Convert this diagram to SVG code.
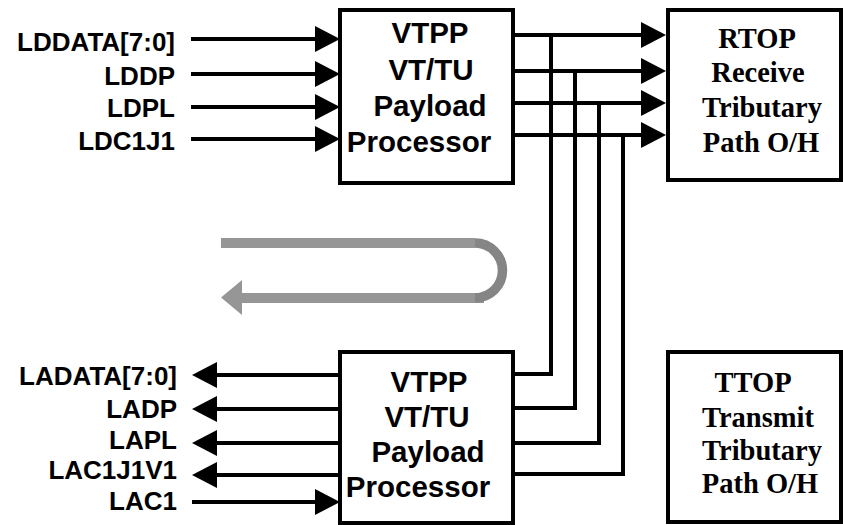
<svg xmlns="http://www.w3.org/2000/svg" width="843" height="525" viewBox="0 0 843 525">
<style>
.box{fill:#fff;stroke:#000;stroke-width:4}
.ln{fill:none;stroke:#000;stroke-width:4}
.ar{fill:none;stroke:#000;stroke-width:4;marker-end:url(#ah)}
.lbl{font-family:"Liberation Sans",Arial,sans-serif;font-weight:bold;font-size:26px;text-anchor:end;fill:#000}
.bt{font-family:"Liberation Sans",Arial,sans-serif;font-weight:bold;font-size:29.5px;text-anchor:middle;fill:#000}
.st{font-family:"Liberation Serif","Times New Roman",serif;font-weight:bold;font-size:28.5px;text-anchor:middle;fill:#000}
</style>
<defs>
<marker id="ah" viewBox="0 0 25 26" refX="1" refY="13" markerWidth="25" markerHeight="26" markerUnits="userSpaceOnUse" orient="auto">
<path d="M0,0 L25,13 L0,26 z" fill="#000"/>
</marker>
</defs>
<g id="connectors">
<path class="ar" d="M191,39 H316"/>
<path class="ar" d="M191,74 H316"/>
<path class="ar" d="M191,107 H316"/>
<path class="ar" d="M191,139 H316"/>
<path class="ar" d="M513,35 H642"/>
<path class="ar" d="M513,71 H642"/>
<path class="ar" d="M513,103 H642"/>
<path class="ar" d="M513,135 H642"/>
<path class="ln" d="M551,35 V374 H513"/>
<path class="ln" d="M575,71 V408 H513"/>
<path class="ln" d="M599,103 V443 H513"/>
<path class="ln" d="M623,135 V474 H513"/>
<path class="ar" d="M340,375 H216"/>
<path class="ar" d="M340,409 H216"/>
<path class="ar" d="M340,443 H216"/>
<path class="ar" d="M340,475 H216"/>
<path class="ar" d="M192,502 H316"/>
</g>
<g id="loop-arrow">
<rect x="221" y="238" width="254" height="10" fill="#969696"/>
<rect x="240" y="293" width="244" height="10" fill="#969696"/>
<polygon points="242,280 221,297.5 242,315" fill="#969696"/>
<path d="M475,243 A27.5,27.5 0 0 1 475,298" fill="none" stroke="#858585" stroke-width="9.5"/>
</g>
<g id="vtpp-top">
<rect class="box" x="340" y="10" width="173" height="173"/>
<text class="bt" x="430" y="43">VTPP</text>
<text class="bt" x="431" y="80">VT/TU</text>
<text class="bt" x="430" y="116">Payload</text>
<text class="bt" x="419" y="152">Processor</text>
</g>
<g id="rtop">
<rect class="box" x="668" y="10" width="173" height="170"/>
<text class="st" x="757" y="48">RTOP</text>
<text class="st" x="758" y="82">Receive</text>
<text class="st" x="762" y="117">Tributary</text>
<text class="st" x="761" y="152">Path O/H</text>
</g>
<g id="vtpp-bottom">
<rect class="box" x="340" y="352" width="173" height="171"/>
<text class="bt" x="429" y="392">VTPP</text>
<text class="bt" x="427" y="427">VT/TU</text>
<text class="bt" x="428" y="462">Payload</text>
<text class="bt" x="418" y="497">Processor</text>
</g>
<g id="ttop">
<rect class="box" x="668" y="352" width="173" height="170"/>
<text class="st" x="753" y="392">TTOP</text>
<text class="st" x="758" y="427">Transmit</text>
<text class="st" x="762" y="460">Tributary</text>
<text class="st" x="760" y="493">Path O/H</text>
</g>
<g id="labels">
<text class="lbl" x="175" y="51">LDDATA[7:0]</text>
<text class="lbl" x="175" y="85">LDDP</text>
<text class="lbl" x="175" y="117">LDPL</text>
<text class="lbl" x="175" y="150">LDC1J1</text>
<text class="lbl" x="177" y="385">LADATA[7:0]</text>
<text class="lbl" x="177" y="418">LADP</text>
<text class="lbl" x="177" y="449">LAPL</text>
<text class="lbl" x="177" y="479">LAC1J1V1</text>
<text class="lbl" x="177" y="510">LAC1</text>
</g>
</svg>
